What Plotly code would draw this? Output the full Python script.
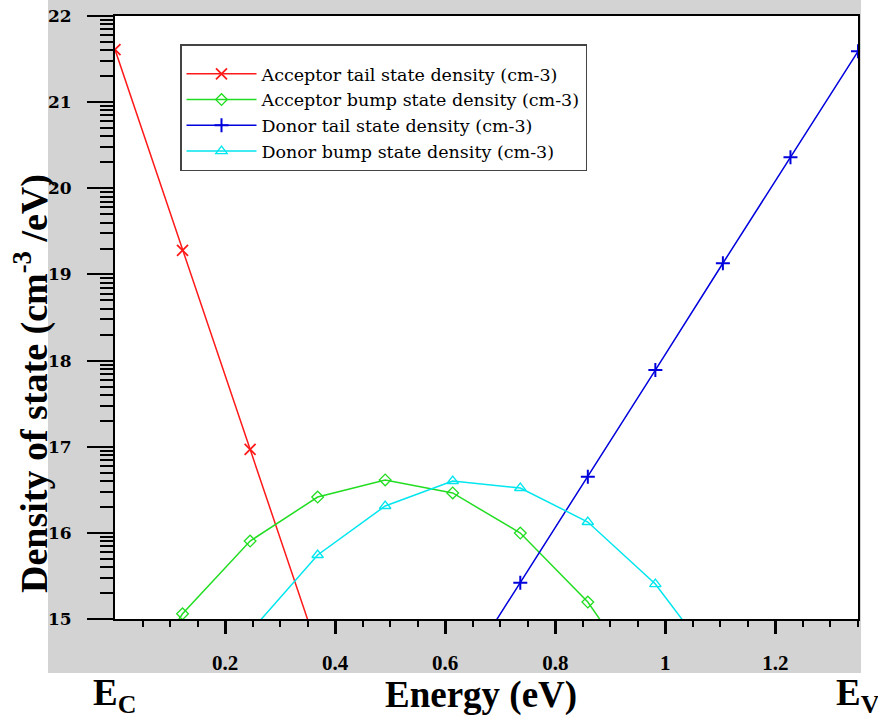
import math
import plotly.graph_objects as go

# ---------------- data ----------------
energy = [0.0, 0.1227, 0.2455, 0.3682, 0.4909, 0.6136, 0.7364, 0.8591, 0.9818, 1.1045, 1.2273, 1.35]

acceptor_tail = [21.61, 19.28, 16.97, 14.65, None, None, None, None, None, None, None, None]
acceptor_bump = [13.88, 15.06, 15.905, 16.416, 16.614, 16.463, 15.998, 15.197, 14.07, None, None, None]
donor_tail = [None, None, None, None, None, 14.19, 15.42, 16.65, 17.89, 19.13, 20.36, 21.59]
donor_bump = [None, None, 14.85, 15.743, 16.312, 16.602, 16.521, 16.126, 15.406, 14.37, None, None]

series_names = [
    "Acceptor tail state density (cm-3)",
    "Acceptor bump state density (cm-3)",
    "Donor tail state density (cm-3)",
    "Donor bump state density (cm-3)",
]

x_tick_vals = [0.2, 0.4, 0.6, 0.8, 1.0, 1.2]
x_tick_text = ["0.2", "0.4", "0.6", "0.8", "1", "1.2"]
x_minor_vals = [0.05, 0.1, 0.15, 0.25, 0.3, 0.35, 0.45, 0.5, 0.55, 0.65, 0.7, 0.75,
                0.85, 0.9, 0.95, 1.05, 1.1, 1.15, 1.25, 1.3, 1.35]
y_tick_vals = [15, 16, 17, 18, 19, 20, 21, 22]
y_minor_vals = [d + math.log10(k) for d in range(15, 22) for k in range(2, 10)]

# ---------------- styles ----------------
W, H = 878, 718
ML, MR, MT, MB = 115, 20, 16, 99
PW, PH = W - ML - MR, H - MT - MB
X_RANGE = [0, 1.35]
Y_RANGE = [15, 22]

def px_x(p):
    return (p - ML) / PW

def px_y(p):
    return (H - MB - p) / PH

styles = [
    dict(color="#ff1a1a", symbol="x-thin", size=11, lw=1.8),
    dict(color="#22dd22", symbol="diamond-open", size=9, lw=1.3),
    dict(color="#0000dd", symbol="cross-thin", size=10, lw=2),
    dict(color="#00e6ee", symbol="triangle-up-open", size=10, lw=1.3),
]
all_series = [acceptor_tail, acceptor_bump, donor_tail, donor_bump]

fig = go.Figure()
for name, ys, st in zip(series_names, all_series, styles):
    fig.add_trace(go.Scatter(
        x=energy, y=ys, name=name, mode="lines+markers",
        line=dict(color=st["color"], width=1.5),
        marker=dict(symbol=st["symbol"], size=st["size"], color=st["color"],
                    line=dict(color=st["color"], width=st["lw"])),
        cliponaxis=True, connectgaps=False,
    ))

# invisible copy on the overlay axes that carry the minor ticks
fig.add_trace(go.Scatter(
    x=energy, y=acceptor_tail, xaxis="x2", yaxis="y2", mode="lines",
    opacity=0, showlegend=False, hoverinfo="skip",
))

grey = "#d3d3d3"
shapes = [
    dict(type="rect", xref="paper", yref="paper", layer="below",
         x0=px_x(48), x1=px_x(861), y0=px_y(673), y1=px_y(0),
         fillcolor=grey, line=dict(width=0)),
    dict(type="rect", xref="paper", yref="paper", layer="below",
         x0=0, x1=1, y0=0, y1=1, fillcolor="white", line=dict(width=0)),
]

title_font = dict(family="Liberation Serif", size=37, color="black", weight="bold")

fig.update_layout(
    width=W, height=H,
    margin=dict(l=ML, r=MR, t=MT, b=MB, pad=0, autoexpand=False),
    paper_bgcolor="white", plot_bgcolor="white",
    showlegend=True,
    legend=dict(
        x=px_x(180), y=px_y(44), xanchor="left", yanchor="top",
        bgcolor="white", bordercolor="#444444", borderwidth=1.5,
        font=dict(family="DejaVu Serif", size=17.5, color="black"),
        itemwidth=70,
        title=dict(text=" ", font=dict(size=8)),
        tracegroupgap=0,
    ),
    shapes=shapes,
    annotations=[
        dict(text="Density of state (cm<sup>-3</sup> /eV)", textangle=-90,
             xref="paper", yref="paper", x=px_x(31), y=px_y(384),
             xanchor="center", yanchor="middle", showarrow=False,
             font=dict(family="Liberation Serif", size=38, color="black", weight="bold")),
        dict(text="Energy (eV)", xref="paper", yref="paper",
             x=px_x(481), y=px_y(695), xanchor="center", yanchor="middle", showarrow=False,
             font=title_font),
        dict(text="E<sub>C</sub>", xref="paper", yref="paper",
             x=px_x(114), y=px_y(695), xanchor="center", yanchor="middle", showarrow=False,
             font=title_font),
        dict(text="E<sub>V</sub>", xref="paper", yref="paper",
             x=px_x(858), y=px_y(695), xanchor="center", yanchor="middle", showarrow=False,
             font=title_font),
    ],
    xaxis=dict(
        range=X_RANGE, showgrid=False, zeroline=False, automargin=False,
        showline=True, linecolor="black", linewidth=2, mirror=True,
        tickmode="array", tickvals=x_tick_vals, ticktext=x_tick_text,
        ticks="outside", ticklen=13, tickwidth=2.5, tickcolor="black",
        ticklabelstandoff=11,
        tickfont=dict(family="Liberation Serif", size=21, color="black", weight="bold"),
    ),
    yaxis=dict(
        range=Y_RANGE, showgrid=False, zeroline=False, automargin=False,
        showline=True, linecolor="black", linewidth=2, mirror=True,
        tickmode="array", tickvals=y_tick_vals, ticktext=[str(v) for v in y_tick_vals],
        ticks="outside", ticklen=26, tickwidth=2, tickcolor="black",
        ticklabelstandoff=12,
        tickfont=dict(family="DejaVu Serif", size=17, color="black", weight="bold"),
    ),
    xaxis2=dict(
        overlaying="x", anchor="y2", side="bottom", range=X_RANGE,
        showgrid=False, zeroline=False, showline=False, automargin=False,
        tickmode="array", tickvals=x_minor_vals, showticklabels=False,
        ticks="outside", ticklen=7, tickwidth=1.8, tickcolor="black",
    ),
    yaxis2=dict(
        overlaying="y", anchor="x2", side="left", range=Y_RANGE,
        showgrid=False, zeroline=False, showline=False, automargin=False,
        tickmode="array", tickvals=y_minor_vals, showticklabels=False,
        ticks="outside", ticklen=14, tickwidth=1.5, tickcolor="black",
    ),
)

fig.write_html("out.html")
